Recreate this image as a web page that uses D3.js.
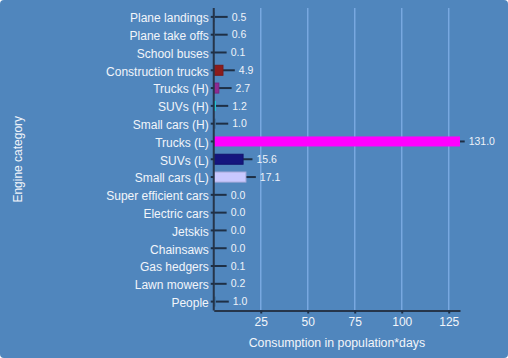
<!DOCTYPE html>
<html><head><meta charset="utf-8">
<script src="https://cdn.jsdelivr.net/npm/d3@7"></script>
<style>body{margin:0;background:#fff}svg{display:block}text{font-family:"Liberation Sans",Arial,sans-serif}</style>
</head><body><svg id="c" width="508" height="358"></svg>
<script>
const categories = ["Plane landings","Plane take offs","School buses","Construction trucks","Trucks (H)","SUVs (H)","Small cars (H)","Trucks (L)","SUVs (L)","Small cars (L)","Super efficient cars","Electric cars","Jetskis","Chainsaws","Gas hedgers","Lawn mowers","People"];
const values = [0.5,0.6,0.1,4.9,2.7,1.2,1.0,131.0,15.6,17.1,0.0,0.0,0.0,0.0,0.1,0.2,1.0];
const errors = [6.9,6.8,6.75,6.3,6.8,6.5,6.7,2.5,5.0,5.3,6.85,6.85,6.85,6.85,6.75,6.65,7.0];
const colors = ["#3b6f9e","#3b6f9e","#3b6f9e","#8c1c1c","#8e2a92","#22c4d4","#3b6f9e","#ff00ff","#15157e","#c8c8ff","#3b6f9e","#3b6f9e","#3b6f9e","#3b6f9e","#3b6f9e","#3b6f9e","#3b6f9e"];
const xTicks = [25,50,75,100,125];
const xTitle = "Consumption in population*days";
const yTitle = "Engine category";

const svg = d3.select("#c");
const W = 508, H = 358;
const m = {l:213.75, r:48, t:8, b:47.5};
svg.append("rect").attr("width",W).attr("height",H).attr("rx",4).attr("fill","#5086bd");

const x = d3.scaleLinear().domain([0,131]).range([m.l, W-m.r]);
const y = d3.scaleBand().domain(categories).range([m.t, H-m.b]).paddingInner(0.44).paddingOuter(0.22);

// grid
svg.append("g").selectAll("line").data(xTicks).join("line")
  .attr("x1",d=>x(d)).attr("x2",d=>x(d)).attr("y1",m.t).attr("y2",H-m.b)
  .attr("stroke","#78a8e0").attr("stroke-width",1.5);

const rowY = d => y(d) + y.bandwidth()/2;
const bh = 10;

// error bars
svg.append("g").selectAll("line").data(categories).join("line")
  .attr("x1",(d,i)=>x(values[i])).attr("x2",(d,i)=>x(values[i]+errors[i]))
  .attr("y1",d=>rowY(d)).attr("y2",d=>rowY(d))
  .attr("stroke","#1e2f45").attr("stroke-width",2);

// bars
svg.append("g").selectAll("rect").data(categories).join("rect")
  .attr("x",x(0)).attr("y",d=>rowY(d)-bh/2)
  .attr("width",(d,i)=>x(values[i])-x(0)).attr("height",bh)
  .attr("fill",(d,i)=>colors[i])
  .attr("stroke",(d,i)=>d3.color(colors[i]).darker(0.4)).attr("stroke-width",(d,i)=>values[i]>2&&values[i]<100?1:0);

// value labels
svg.append("g").selectAll("text").data(categories).join("text")
  .attr("x",(d,i)=>x(values[i]+errors[i])+4).attr("y",d=>rowY(d)).attr("dy","0.35em")
  .attr("font-size",10.5).attr("fill","#eef2f8")
  .text((d,i)=>d3.format(".1f")(values[i]));

// y axis
const ya = svg.append("g").attr("transform",`translate(${m.l},0)`)
  .call(d3.axisLeft(y).tickSize(3).tickPadding(2));
ya.select(".domain").attr("stroke","#26354a").attr("stroke-width",2).attr("d",`M0,${m.t}V${H-m.b}`);
ya.selectAll(".tick line").attr("stroke","#1e2f45").attr("stroke-width",2).attr("x2",-3);
ya.selectAll(".tick text").attr("fill","#f2f5fa").attr("font-size",12).attr("font-family","Liberation Sans, Arial, sans-serif").attr("dy","0.45em");

// x axis
const xa = svg.append("g").attr("transform",`translate(0,${H-m.b})`)
  .call(d3.axisBottom(x).tickValues(xTicks).tickSize(3).tickPadding(4).tickSizeOuter(0));
xa.select(".domain").attr("stroke","#26354a").attr("stroke-width",2);
xa.selectAll(".tick line").attr("stroke","#1e2f45").attr("stroke-width",2);
xa.selectAll(".tick text").attr("fill","#f2f5fa").attr("font-size",12).attr("font-family","Liberation Sans, Arial, sans-serif");

svg.append("text").attr("x",(x(0)+x(131))/2).attr("y",347).attr("text-anchor","middle")
  .attr("font-size",12.3).attr("fill","#f2f5fa").text(xTitle);
svg.append("text").attr("transform",`translate(22,${(m.t+H-m.b)/2}) rotate(-90)`).attr("text-anchor","middle")
  .attr("font-size",12).attr("fill","#f2f5fa").text(yTitle);
</script></body></html>
